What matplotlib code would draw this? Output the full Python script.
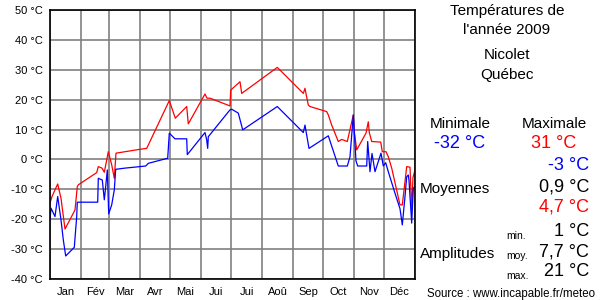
import matplotlib
matplotlib.use("Agg")
import matplotlib.pyplot as plt
import numpy as np

plt.rcParams['font.family'] = ['Liberation Sans', 'DejaVu Sans']

# daily extremes (day of year, °C)
max_days = [0, 2, 7.7, 11, 15, 25, 27.3, 28.3, 46.7, 48.3, 52, 54.3, 56.7, 58.3, 61.7,
            64.3, 66, 90, 96.7, 119.3, 125.3, 136.7, 138.3, 155, 157, 160, 180, 180.7,
            190, 191.7, 227.3, 253.3, 255, 256, 258.3, 260, 276.7, 278.3, 281.7, 288.3,
            291.7, 297.3, 303.3, 304, 306.7, 316, 318.3, 319.3, 321.7, 330.7, 332.3, 336,
            338.3, 341.7, 350, 352.3, 355, 356.7, 360, 361.7, 363, 365]
max_temp = [-14.6, -12.4, -8.2, -13, -23.3, -16.9, -9.1, -8.5, -4.4, -2.4, -2.9, -4.3, -0.2,
            2.6, -1.8, -6.3, 2.1, 3.4, 3.7, 19.7, 13.8, 17.7, 11.9, 21.9, 20.5, 20.5, 17.9,
            23.2, 26.0, 22.1, 30.8, 22.1, 23.8, 22, 18.2, 17.7, 16.0, 14.9, 11.5, 6.0, 6.7,
            6.0, 14.9, 10, 3.2, 8.8, 12.6, 9, 6.0, 5.8, 2.6, 2.6, 0.9, -2.9, -15.2, -15.2,
            -7.4, -2.4, -2.6, -16.9, -6, -3.5]

min_days = [0, 1, 5, 7.7, 9, 11, 13.3, 15.7, 24.3, 26.7, 27.3, 47.7, 48.3, 52.3, 54.3,
            55.7, 57.3, 58.7, 61.7, 64.3, 65.7, 75, 95.7, 98.3, 117.7, 119.3, 125, 136.7,
            137.3, 155, 156.7, 157.7, 158.3, 180, 181.7, 188.3, 192.7, 227.3, 253.3, 255,
            256, 259, 278.3, 288.3, 297.3, 300, 303.3, 306, 307.7, 316.7, 317.7, 320, 322,
            325, 331, 333.3, 335.7, 338.3, 345, 350, 352.3, 355, 356.7, 358.3, 359, 361.7,
            363.3, 365]
min_temp = [-20.2, -16.3, -19.1, -12.4, -15.5, -20.2, -26.9, -32.3, -29.4, -19.1, -14.3,
            -14.3, -6.3, -6.9, -13.5, -9.1, -3.5, -18.2, -15.2, -10.2, -3.3, -2.9, -2.2,
            -1.3, 0.4, 8.8, 6.9, 6.9, 1.6, 9.0, 6.5, 3.7, 7.6, 16.6, 16.8, 15.5, 9.9, 17.7,
            9.0, 11.5, 9.5, 3.7, 7.9, -2.2, -2.2, 0.9, 14.9, -0.5, -2.2, -2.2, 6.0, -4.1,
            2, -4.1, 2.1, -2.2, -1.1, -4.1, -11.3, -16.5, -21.9, -12.4, -5.8, -5.2, -7,
            -21.3, -9.6, -9.1]

month_starts = [0, 31, 59, 90, 120, 151, 181, 212, 243, 273, 304, 334, 365]
month_names = ['Jan', 'Fév', 'Mar', 'Avr', 'Mai', 'Jui', 'Jui', 'Aoû', 'Sep', 'Oct', 'Nov', 'Déc']
y_ticks = list(range(-40, 51, 10))

fig = plt.figure(figsize=(6, 3), dpi=100)
ax = fig.add_axes([50 / 600, 1 - 279 / 300, 365 / 600, 269 / 300])

ax.plot(max_days, max_temp, color='#ff0000', lw=0.9)
ax.plot(min_days, min_temp, color='#0000ff', lw=0.9)

ax.set_xlim(0, 365)
ax.set_ylim(-40, 50)
ax.set_yticks(y_ticks)
ax.set_yticklabels(['%d °C' % v for v in y_ticks], fontsize=8)
ax.set_xticks(month_starts)
ax.set_xticklabels([])
centers = [(a + b) / 2 for a, b in zip(month_starts[:-1], month_starts[1:])]
ax.set_xticks(centers, minor=True)
ax.set_xticklabels(month_names, minor=True, fontsize=8)
ax.tick_params(which='both', length=0)
ax.tick_params(axis='y', pad=5)
ax.tick_params(axis='x', which='minor', pad=6)
ax.grid(True, which='major', color='#808080', lw=1.2)
ax.set_axisbelow(True)
for s in ax.spines.values():
    s.set_color('black')
    s.set_linewidth(1.2)

def px(x, y):
    return x / 600, 1 - y / 300

def txt(x, y, s, **kw):
    kw.setdefault('va', 'center')
    fig.text(*px(x, y), s, **kw)

txt(507, 11, 'Températures de', ha='center', fontsize=11)
txt(507, 30, "l'année 2009", ha='center', fontsize=11)
txt(507, 55, 'Nicolet', ha='center', fontsize=11)
txt(507, 75, 'Québec', ha='center', fontsize=11)

txt(460, 124, 'Minimale', ha='center', fontsize=11)
txt(554, 124, 'Maximale', ha='center', fontsize=11)
txt(460, 143, '-32 °C', ha='center', fontsize=13, color='#0000ff')
txt(554, 143, '31 °C', ha='center', fontsize=13, color='#ff0000')

txt(589, 166, '-3 °C', ha='right', fontsize=13, color='#0000ff')
txt(589, 187, '0,9 °C', ha='right', fontsize=13, color='black')
txt(589, 207, '4,7 °C', ha='right', fontsize=13, color='#ff0000')
txt(420, 189, 'Moyennes', ha='left', fontsize=11)

txt(506, 236, 'min.', ha='left', fontsize=7.5)
txt(506, 256, 'moy.', ha='left', fontsize=7.5)
txt(506, 276, 'max.', ha='left', fontsize=7.5)
txt(589, 232, '1 °C', ha='right', fontsize=13)
txt(589, 252, '7,7 °C', ha='right', fontsize=13)
txt(589, 272, '21 °C', ha='right', fontsize=13)
txt(420, 254, 'Amplitudes', ha='left', fontsize=11)

txt(595, 294, 'Source : www.incapable.fr/meteo', ha='right', fontsize=8.3)

fig.savefig('out.png', dpi=100)
